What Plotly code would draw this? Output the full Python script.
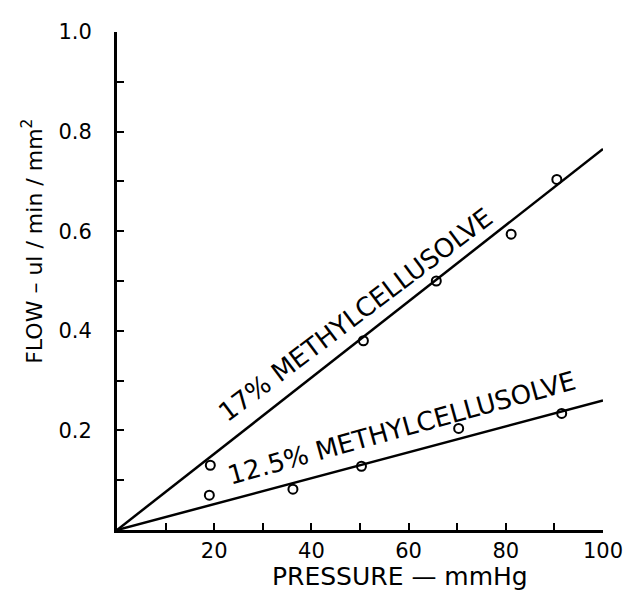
import plotly.graph_objects as go

# Data
pressure_17 = [19.2, 50.7, 65.7, 81.1, 90.5, 101.0]
flow_17 = [0.13, 0.38, 0.50, 0.594, 0.704, 0.784]
pressure_125 = [19.0, 36.2, 50.3, 70.3, 91.5]
flow_125 = [0.07, 0.082, 0.128, 0.204, 0.234]

fit_x = [0, 100]
fit_17 = [0, 0.765]
fit_125 = [0, 0.26]

x_tickvals = [20, 40, 60, 80, 100]
x_ticktext = ["20", "40", "60", "80", "100"]
x_minorvals = [10, 30, 50, 70, 90]
y_tickvals = [0.2, 0.4, 0.6, 0.8, 1.0]
y_ticktext = ["0.2", "0.4", "0.6", "0.8", "1.0"]
y_minorvals = [0.1, 0.3, 0.5, 0.7, 0.9]

label_17 = "17% METHYLCELLUSOLVE"
label_125 = "12.5% METHYLCELLUSOLVE"
x_title = "PRESSURE — mmHg"
y_title = "FLOW – ul / min / mm<sup>2</sup>"

FONT = "DejaVu Sans"

fig = go.Figure()
fig.add_trace(go.Scatter(x=fit_x, y=fit_17, mode="lines",
                         line=dict(color="black", width=2.5), cliponaxis=False))
fig.add_trace(go.Scatter(x=fit_x, y=fit_125, mode="lines",
                         line=dict(color="black", width=2.5), cliponaxis=False))
fig.add_trace(go.Scatter(x=pressure_17, y=flow_17, mode="markers", cliponaxis=False,
                         marker=dict(symbol="circle-open", size=9, color="black",
                                     line=dict(width=2, color="black"))))
fig.add_trace(go.Scatter(x=pressure_125, y=flow_125, mode="markers", cliponaxis=False,
                         marker=dict(symbol="circle-open", size=9, color="black",
                                     line=dict(width=2, color="black"))))

fig.add_annotation(x=49.0, y=0.432, xref="x", yref="y", text=label_17, showarrow=False,
                   textangle=-37, font=dict(family=FONT, size=26, color="black"),
                   xanchor="center", yanchor="middle")
fig.add_annotation(x=58.6, y=0.204, xref="x", yref="y", text=label_125, showarrow=False,
                   textangle=-15.5, font=dict(family=FONT, size=26, color="black"),
                   xanchor="center", yanchor="middle")
fig.add_annotation(x=0.582, y=-0.094, xref="paper", yref="paper", text=x_title,
                   showarrow=False, font=dict(family=FONT, size=25, color="black"),
                   xanchor="center", yanchor="middle")
fig.add_annotation(x=-0.1736, y=0.58, xref="paper", yref="paper", text=y_title,
                   showarrow=False, textangle=-90,
                   font=dict(family=FONT, size=22, color="black"),
                   xanchor="center", yanchor="middle")

# page body has an 8px margin, so the figure is sized/offset to compensate
fig.update_layout(
    width=627, height=583,
    margin=dict(l=109, r=26, t=22, b=61),
    paper_bgcolor="white", plot_bgcolor="white",
    showlegend=False,
    xaxis=dict(range=[0, 100], showgrid=False, zeroline=False, showline=True,
               linecolor="black", linewidth=3, ticks="inside", ticklen=7,
               tickwidth=2, tickcolor="black", tickvals=x_tickvals,
               ticktext=x_ticktext, ticklabelstandoff=0,
               minor=dict(tickvals=x_minorvals, ticks="inside", ticklen=7,
                          tickwidth=2, tickcolor="black", showgrid=False),
               tickfont=dict(family=FONT, size=21, color="black")),
    yaxis=dict(range=[0, 1.0], showgrid=False, zeroline=False, showline=True,
               linecolor="black", linewidth=3, ticks="inside", ticklen=7,
               tickwidth=2, tickcolor="black", tickvals=y_tickvals,
               ticktext=y_ticktext, ticklabelstandoff=18,
               minor=dict(tickvals=y_minorvals, ticks="inside", ticklen=7,
                          tickwidth=2, tickcolor="black", showgrid=False),
               tickfont=dict(family=FONT, size=21, color="black")),
)

fig.write_html("out.html")
